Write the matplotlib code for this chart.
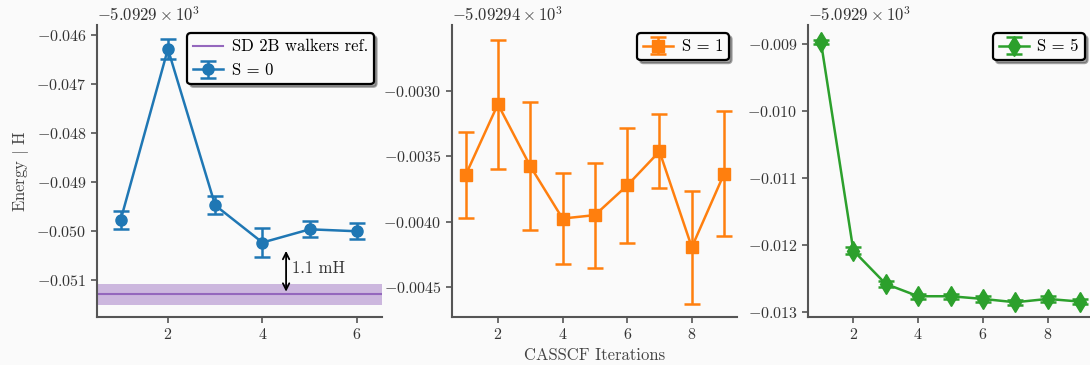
import matplotlib
matplotlib.use("Agg")
import matplotlib.pyplot as plt
import numpy as np
from matplotlib.ticker import ScalarFormatter

# CASSCF iteration energies (Hartree) for three spin states
iters_s0 = [1, 2, 3, 4, 5, 6]
energy_s0 = [-5092.94978, -5092.94629, -5092.94948, -5092.95024, -5092.94997, -5092.95001]
err_s0 = [0.00019, 0.00020, 0.00018, 0.00029, 0.00016, 0.00016]

iters_s1 = [1, 2, 3, 4, 5, 6, 7, 8, 9]
energy_s1 = [-5092.943645, -5092.943104, -5092.943576, -5092.943976, -5092.943950,
             -5092.943724, -5092.943464, -5092.944195, -5092.943634]
err_s1 = [0.000328, 0.000492, 0.000485, 0.000347, 0.000400, 0.000436, 0.000282, 0.000430, 0.000478]

iters_s5 = [1, 2, 3, 4, 5, 6, 7, 8, 9]
energy_s5 = [-5092.908966, -5092.912079, -5092.912576, -5092.912760, -5092.912760,
             -5092.912800, -5092.912850, -5092.912800, -5092.912840]
err_s5 = [0.00003, 0.00005, 0.00005, 0.00004, 0.00004, 0.00004, 0.00004, 0.00004, 0.00004]

# reference walker energy and its uncertainty
ref_energy = -5092.9513
ref_err = 0.00022
gap_label = "1.1 mH"

plt.rcParams.update({
    "font.family": "serif",
    "font.serif": ["cmr10"],
    "mathtext.fontset": "cm",
    "axes.formatter.use_mathtext": True,
    "font.size": 11.5,
    "legend.fontsize": 12,
    "axes.labelsize": 12,
    "figure.facecolor": "#fafafa",
    "axes.facecolor": "#fafafa",
    "axes.edgecolor": "#555555",
    "axes.linewidth": 1.5,
    "xtick.color": "#555555",
    "ytick.color": "#555555",
    "xtick.labelcolor": "#333333",
    "ytick.labelcolor": "#333333",
    "axes.labelcolor": "#444444",
    "axes.spines.top": False,
    "axes.spines.right": False,
})

fig = plt.figure(figsize=(10.9, 3.65), dpi=100)
ax1 = fig.add_axes([0.089, 0.1315, 0.2615, 0.80])
ax2 = fig.add_axes([0.4147, 0.1315, 0.2615, 0.80])
ax3 = fig.add_axes([0.7413, 0.1315, 0.2615, 0.80])

eb_kw = dict(lw=1.8, elinewidth=1.8, capsize=6, capthick=1.8)

# S = 0 with the reference band
xs = [0.5, 6.53]
ax1.plot(xs, [ref_energy] * 2, color="tab:purple", lw=1.5, label="SD 2B walkers ref.")
ax1.fill_between(xs, ref_energy - ref_err, ref_energy + ref_err, color="tab:purple", alpha=0.45, lw=0)
ax1.errorbar(iters_s0, energy_s0, yerr=err_s0, color="tab:blue", marker="o", ms=8,
             label="S = 0", **eb_kw)
ax1.annotate("", xy=(4.5, ref_energy), xytext=(4.5, energy_s0[3]),
             arrowprops=dict(arrowstyle="<->", color="black", lw=1.3, shrinkA=6, shrinkB=2))
ax1.text(4.62, (ref_energy + energy_s0[3]) / 2, gap_label, va="center", ha="left",
         color="#333333", fontsize=12)
ax1.set_xlim(0.5, 6.53)
ax1.set_ylim(-5092.95176, -5092.9458)
ax1.set_ylabel(r"Energy $|$ H")

ax2.errorbar(iters_s1, energy_s1, yerr=err_s1, color="tab:orange", marker="s", ms=9,
             label="S = 1", **eb_kw)
ax2.set_xlim(0.58, 9.4)
ax2.set_ylim(-5092.944727, -5092.9425)
ax2.set_xlabel("CASSCF Iterations")
ax2.set_yticks([-5092.9430, -5092.9435, -5092.9440, -5092.9445])

ax3.errorbar(iters_s5, energy_s5, yerr=err_s5, color="tab:green", marker="d", ms=10,
             label="S = 5", **eb_kw)
ax3.set_xlim(0.6, 9.4)
ax3.set_ylim(-5092.91307, -5092.90871)
ax3.set_yticks([-5092.909, -5092.910, -5092.911, -5092.912, -5092.913])

offsets = [-5092.9, -5092.94, -5092.9]
for ax, off in zip([ax1, ax2, ax3], offsets):
    fmt = ScalarFormatter(useOffset=off, useMathText=True)
    ax.yaxis.set_major_formatter(fmt)
    ax.yaxis.get_offset_text().set_color("#333333")
    ax.yaxis.get_offset_text().set_fontsize(12)
    ax.set_xticks([2, 4, 6, 8] if ax is not ax1 else [2, 4, 6])
    ax.tick_params(width=1.2, length=4)
    leg = ax.legend(loc="upper right", shadow=True, fancybox=True, framealpha=1,
                    edgecolor="black", borderpad=0.35, handlelength=1.8, handletextpad=0.5)
    leg.get_frame().set_linewidth(1.6)

fig.savefig("out.png", dpi=100, facecolor=fig.get_facecolor())
